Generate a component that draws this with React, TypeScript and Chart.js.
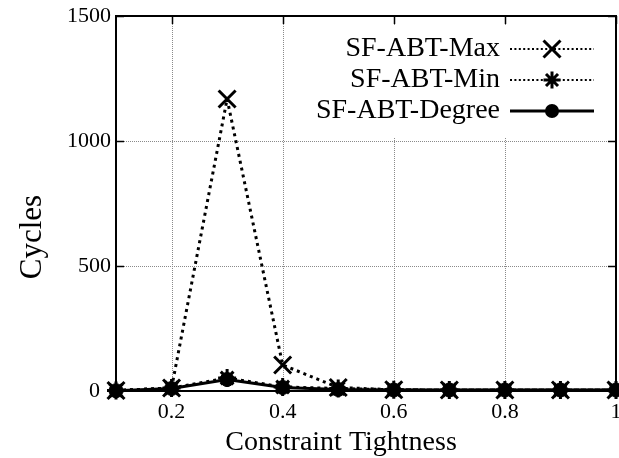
import React, { useEffect, useRef } from "react";
import { Chart, registerables } from "chart.js";

Chart.register(...registerables);

const tightness = [0.1, 0.2, 0.3, 0.4, 0.5, 0.6, 0.7, 0.8, 0.9, 1.0];
const maxCycles = [2, 12, 1168, 104, 14, 5, 4, 4, 4, 4];
const minCycles = [2, 12, 52, 16, 10, 5, 4, 4, 4, 4];
const degreeCycles = [1, 10, 46, 14, 6, 4, 4, 4, 4, 4];
const xTicks = [0.2, 0.4, 0.6, 0.8, 1.0];
const yTicks = [0, 500, 1000, 1500];
const seriesNames = ["SF-ABT-Max", "SF-ABT-Min", "SF-ABT-Degree"];
const xTitle = "Constraint Tightness";
const yTitle = "Cycles";

const FONT = '"Liberation Serif", "Times New Roman", serif';

function drawMarker(ctx: CanvasRenderingContext2D, style: string, cx: number, cy: number) {
  ctx.save();
  ctx.strokeStyle = "#000";
  ctx.fillStyle = "#000";
  ctx.lineWidth = 3;
  ctx.setLineDash([]);
  ctx.beginPath();
  if (style === "crossRot") {
    const o = 12 * Math.SQRT1_2;
    ctx.moveTo(cx - o, cy - o); ctx.lineTo(cx + o, cy + o);
    ctx.moveTo(cx - o, cy + o); ctx.lineTo(cx + o, cy - o);
    ctx.stroke();
  } else if (style === "star") {
    const r = 8.5;
    const o = r * Math.SQRT1_2;
    ctx.moveTo(cx - r, cy); ctx.lineTo(cx + r, cy);
    ctx.moveTo(cx, cy - r); ctx.lineTo(cx, cy + r);
    ctx.moveTo(cx - o, cy - o); ctx.lineTo(cx + o, cy + o);
    ctx.moveTo(cx - o, cy + o); ctx.lineTo(cx + o, cy - o);
    ctx.stroke();
  } else {
    ctx.arc(cx, cy, 7, 0, Math.PI * 2);
    ctx.fill();
  }
  ctx.restore();
}

const framePlugin = {
  id: "gnuplotFrame",
  beforeDatasetsDraw(chart: any) {
    const { ctx, chartArea: a, scales } = chart;
    const x = scales.x;
    const y = scales.y;
    ctx.save();
    // dotted grid
    ctx.strokeStyle = "#8a8a8a";
    ctx.lineWidth = 1;
    ctx.setLineDash([1, 1]);
    for (const v of xTicks) {
      const px = Math.round(x.getPixelForValue(v)) + 0.5;
      if (px > a.left + 2 && px < a.right - 2) {
        ctx.beginPath();
        ctx.moveTo(px, a.top);
        ctx.lineTo(px, a.bottom);
        ctx.stroke();
      }
    }
    for (const v of yTicks) {
      const py = Math.round(y.getPixelForValue(v)) + 0.5;
      if (py > a.top + 2 && py < a.bottom - 2) {
        ctx.beginPath();
        ctx.moveTo(a.left, py);
        ctx.lineTo(a.right, py);
        ctx.stroke();
      }
    }
    ctx.setLineDash([]);
    // legend background (opaque key)
    ctx.fillStyle = "#fff";
    ctx.fillRect(a.left + 186, a.top + 10, a.right - a.left - 190, 112);
    // inward ticks
    ctx.strokeStyle = "#000";
    ctx.lineWidth = 1.5;
    for (const v of xTicks) {
      const px = Math.round(x.getPixelForValue(v)) + 0.5;
      ctx.beginPath();
      ctx.moveTo(px, a.bottom); ctx.lineTo(px, a.bottom - 8);
      ctx.moveTo(px, a.top); ctx.lineTo(px, a.top + 8);
      ctx.stroke();
    }
    for (const v of yTicks) {
      const py = Math.round(y.getPixelForValue(v)) + 0.5;
      ctx.beginPath();
      ctx.moveTo(a.left, py); ctx.lineTo(a.left + 8, py);
      ctx.moveTo(a.right, py); ctx.lineTo(a.right - 8, py);
      ctx.stroke();
    }
    // box
    ctx.lineWidth = 2;
    ctx.strokeRect(a.left, a.top, a.right - a.left, a.bottom - a.top);
    // axis titles
    ctx.fillStyle = "#000";
    ctx.textAlign = "center";
    ctx.textBaseline = "middle";
    ctx.font = `28px ${FONT}`;
    ctx.fillText(xTitle, a.left + 225, a.bottom + 52);
    ctx.save();
    ctx.font = `31px ${FONT}`;
    ctx.translate(33, a.top + 221);
    ctx.rotate(-Math.PI / 2);
    ctx.fillText(yTitle, 0, 0);
    ctx.restore();
    ctx.restore();
  },
  afterDatasetsDraw(chart: any) {
    const { ctx, chartArea: a } = chart;
    ctx.save();
    ctx.font = `28px ${FONT}`;
    ctx.fillStyle = "#000";
    ctx.textAlign = "right";
    ctx.textBaseline = "middle";
    const textRight = a.left + 384;
    const lineStart = a.left + 394;
    const lineEnd = a.left + 478;
    const markX = a.left + 436;
    chart.data.datasets.forEach((ds: any, i: number) => {
      const cy = a.top + 33 + i * 31;
      ctx.fillText(ds.label, textRight, cy);
      ctx.save();
      ctx.strokeStyle = "#000";
      if (ds.borderDash && ds.borderDash.length) {
        ctx.lineWidth = 2.2;
        ctx.setLineDash([2, 2.4]);
      } else {
        ctx.lineWidth = 3;
        ctx.setLineDash([]);
      }
      ctx.beginPath();
      ctx.moveTo(lineStart, cy);
      ctx.lineTo(lineEnd, cy);
      ctx.stroke();
      ctx.restore();
      drawMarker(ctx, ds.pointStyle, markX, cy);
    });
    ctx.restore();
  },
};

export default function App() {
  const ref = useRef<HTMLCanvasElement | null>(null);

  useEffect(() => {
    if (!ref.current) return;
    const toPts = (vals: number[]) => tightness.map((t, i) => ({ x: t, y: vals[i] }));
    const chart = new Chart(ref.current, {
      type: "line",
      data: {
        datasets: [
          {
            label: seriesNames[0],
            data: toPts(maxCycles),
            borderColor: "#000",
            borderWidth: 3,
            borderDash: [3, 4],
            pointStyle: "crossRot",
            pointRadius: 12,
            pointBorderWidth: 3,
            pointBorderColor: "#000",
            pointBackgroundColor: "#000",
            clip: false as any,
            tension: 0,
          },
          {
            label: seriesNames[1],
            data: toPts(minCycles),
            borderColor: "#000",
            borderWidth: 3,
            borderDash: [3, 4],
            pointStyle: "star",
            pointRadius: 9,
            pointBorderWidth: 3,
            pointBorderColor: "#000",
            pointBackgroundColor: "#000",
            clip: false as any,
            tension: 0,
          },
          {
            label: seriesNames[2],
            data: toPts(degreeCycles),
            borderColor: "#000",
            borderWidth: 3,
            pointStyle: "circle",
            pointRadius: 7,
            pointBorderWidth: 1,
            pointBorderColor: "#000",
            pointBackgroundColor: "#000",
            clip: false as any,
            tension: 0,
          },
        ],
      },
      options: {
        animation: false,
        responsive: false,
        devicePixelRatio: 1,
        layout: { autoPadding: false, padding: { top: 16, right: 3, left: 0, bottom: 0 } },
        plugins: {
          legend: { display: false },
          tooltip: { enabled: false },
        },
        scales: {
          x: {
            type: "linear",
            min: 0.1,
            max: 1.0,
            afterBuildTicks: (s: any) => {
              s.ticks = xTicks.map((v) => ({ value: v }));
            },
            afterFit: (s: any) => {
              s.height = 67;
              s.paddingLeft = 0;
              s.paddingRight = 0;
            },
            grid: { display: false, drawTicks: false },
            border: { display: false },
            ticks: {
              color: "#000",
              font: { family: FONT, size: 22 },
              padding: 8,
              maxRotation: 0,
              autoSkip: false,
              callback: (v: any) => String(v),
            },
          },
          y: {
            type: "linear",
            min: 0,
            max: 1500,
            afterBuildTicks: (s: any) => {
              s.ticks = yTicks.map((v) => ({ value: v }));
            },
            afterFit: (s: any) => {
              s.width = 116;
              s.paddingTop = 0;
              s.paddingBottom = 0;
            },
            grid: { display: false, drawTicks: false },
            border: { display: false },
            ticks: {
              color: "#000",
              font: { family: FONT, size: 22 },
              padding: 5,
              autoSkip: false,
              callback: (v: any) => (v === 0 ? "0\u2002" : String(v)),
            },
          },
        },
      },
      plugins: [framePlugin],
    });
    return () => chart.destroy();
  }, []);

  return (
    <div style={{ position: "absolute", left: 0, top: 0, width: 619, height: 458, background: "#fff" }}>
      <canvas ref={ref} width={619} height={458} />
    </div>
  );
}
